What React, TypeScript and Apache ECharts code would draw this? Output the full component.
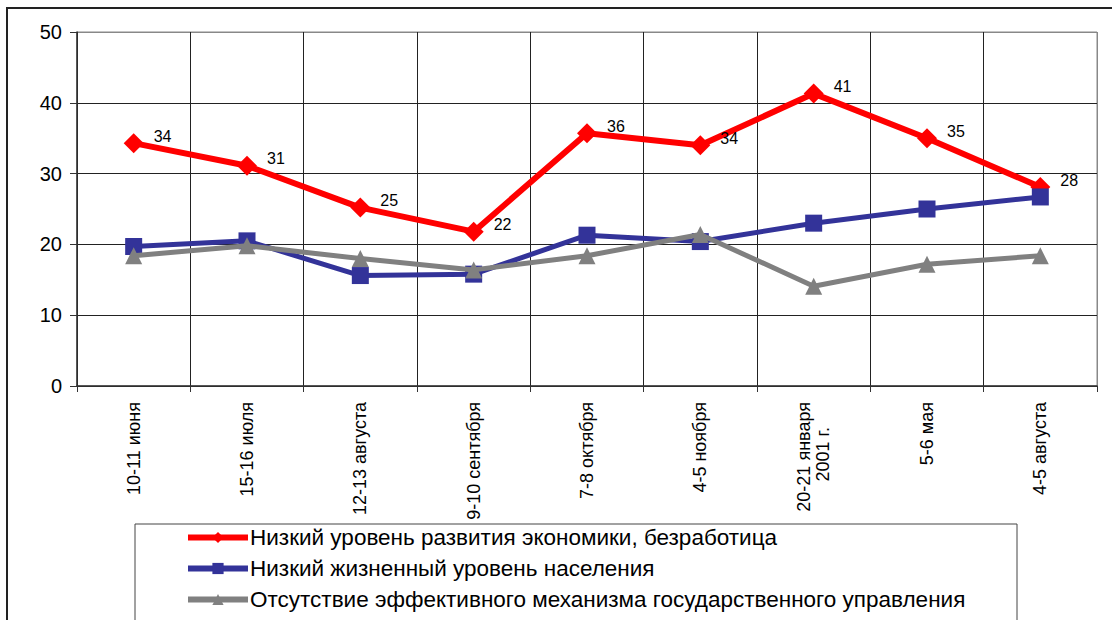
import React, { useEffect, useRef } from "react";
import * as echarts from "echarts";

const categories = [
  "10-11 июня",
  "15-16 июля",
  "12-13 августа",
  "9-10 сентября",
  "7-8 октября",
  "4-5 ноября",
  "20-21 января\n2001 г.",
  "5-6 мая",
  "4-5 августа",
];

const economyValues = [34.3, 31.1, 25.2, 21.8, 35.7, 34.0, 41.3, 35.0, 28.1];
const livingValues = [19.7, 20.5, 15.6, 15.8, 21.3, 20.4, 23.0, 25.0, 26.7];
const governanceValues = [18.4, 19.8, 18.0, 16.4, 18.4, 21.4, 14.1, 17.2, 18.4];

const seriesNames = [
  "Низкий уровень развития экономики, безработица",
  "Низкий жизненный уровень населения",
  "Отсутствие эффективного механизма государственного управления",
];

const yTicks = { min: 0, max: 50, interval: 10 };

const FONT = "'Liberation Sans', Arial, sans-serif";
const NBSP = "\u00a0";

export default function App() {
  const ref = useRef<HTMLDivElement>(null);

  useEffect(() => {
    if (!ref.current) return;
    const chart = echarts.init(ref.current, undefined, { renderer: "svg" });
    chart.setOption({
      animation: false,
      backgroundColor: "#ffffff",
      textStyle: { fontFamily: FONT },
      grid: {
        left: 77,
        top: 32,
        right: 15,
        bottom: 234,
        show: true,
        borderColor: "#888888",
        borderWidth: 1,
      },
      graphic: [
        {
          type: "rect",
          shape: { x: 7, y: 8, width: 1200, height: 700 },
          style: { fill: "none", stroke: "#222", lineWidth: 2 },
          z: 0,
          silent: true,
        },
        {
          type: "rect",
          shape: { x: 135, y: 524, width: 882, height: 200 },
          style: { fill: "none", stroke: "#444", lineWidth: 1 },
          z: 0,
          silent: true,
        },
      ],
      legend: {
        orient: "vertical",
        left: 185,
        top: 526,
        itemWidth: 60,
        itemHeight: 14,
        itemGap: 8,
        padding: 0,
        lineStyle: { width: 6 },
        textStyle: {
          fontFamily: FONT,
          fontSize: 22.5,
          color: "#000",
          lineHeight: 20,
          padding: [0, 0, 0, -3],
        },
        data: seriesNames,
      },
      xAxis: {
        type: "category",
        data: categories,
        boundaryGap: true,
        axisLine: { show: true, lineStyle: { color: "#333", width: 1.5 } },
        axisTick: { show: true, length: 6, lineStyle: { color: "#333" } },
        splitLine: {
          show: true,
          lineStyle: {
            color: ["#222", "#222", "#222", "#222", "#222", "#222", "#222", "#222", "#222", "#888"],
            width: 1,
          },
        },
        axisLabel: {
          rotate: 90,
          margin: 16,
          interval: 0,
          color: "#000",
          fontFamily: FONT,
          fontSize: 18,
          lineHeight: 19,
          formatter: (v: string) => {
            if (v.indexOf("\n") < 0) return v;
            const parts = v.split("\n");
            return parts[0] + "\n" + parts[1] + NBSP.repeat(5);
          },
        },
      },
      yAxis: {
        type: "value",
        min: yTicks.min,
        max: yTicks.max,
        interval: yTicks.interval,
        axisLine: { show: true, lineStyle: { color: "#333", width: 1.5 } },
        axisTick: { show: true, length: 7, lineStyle: { color: "#333" } },
        splitLine: {
          show: true,
          lineStyle: { color: ["#222", "#222", "#222", "#222", "#222", "#888"], width: 1 },
        },
        axisLabel: {
          margin: 15,
          color: "#000",
          fontFamily: FONT,
          fontSize: 20,
        },
      },
      series: [
        {
          name: seriesNames[0],
          type: "line",
          data: economyValues,
          symbol: "diamond",
          symbolSize: 20,
          color: "#ff0000",
          lineStyle: { color: "#ff0000", width: 6 },
          itemStyle: { color: "#ff0000" },
          label: {
            show: true,
            position: "right",
            distance: 10,
            offset: [0, -7],
            color: "#000",
            fontFamily: FONT,
            fontSize: 16,
            formatter: (p: any) => String(Math.round(p.value)),
          },
          z: 2,
        },
        {
          name: seriesNames[1],
          type: "line",
          data: livingValues,
          symbol: "rect",
          symbolSize: 17,
          color: "#333399",
          lineStyle: { color: "#333399", width: 5 },
          itemStyle: { color: "#333399" },
          z: 3,
        },
        {
          name: seriesNames[2],
          type: "line",
          data: governanceValues,
          symbol: "triangle",
          symbolSize: 17,
          color: "#808080",
          lineStyle: { color: "#808080", width: 5 },
          itemStyle: { color: "#808080" },
          z: 4,
        },
      ],
    });
    return () => chart.dispose();
  }, []);

  return (
    <div
      ref={ref}
      style={{ position: "fixed", left: 0, top: 0, width: 1112, height: 620, background: "#fff" }}
    />
  );
}
